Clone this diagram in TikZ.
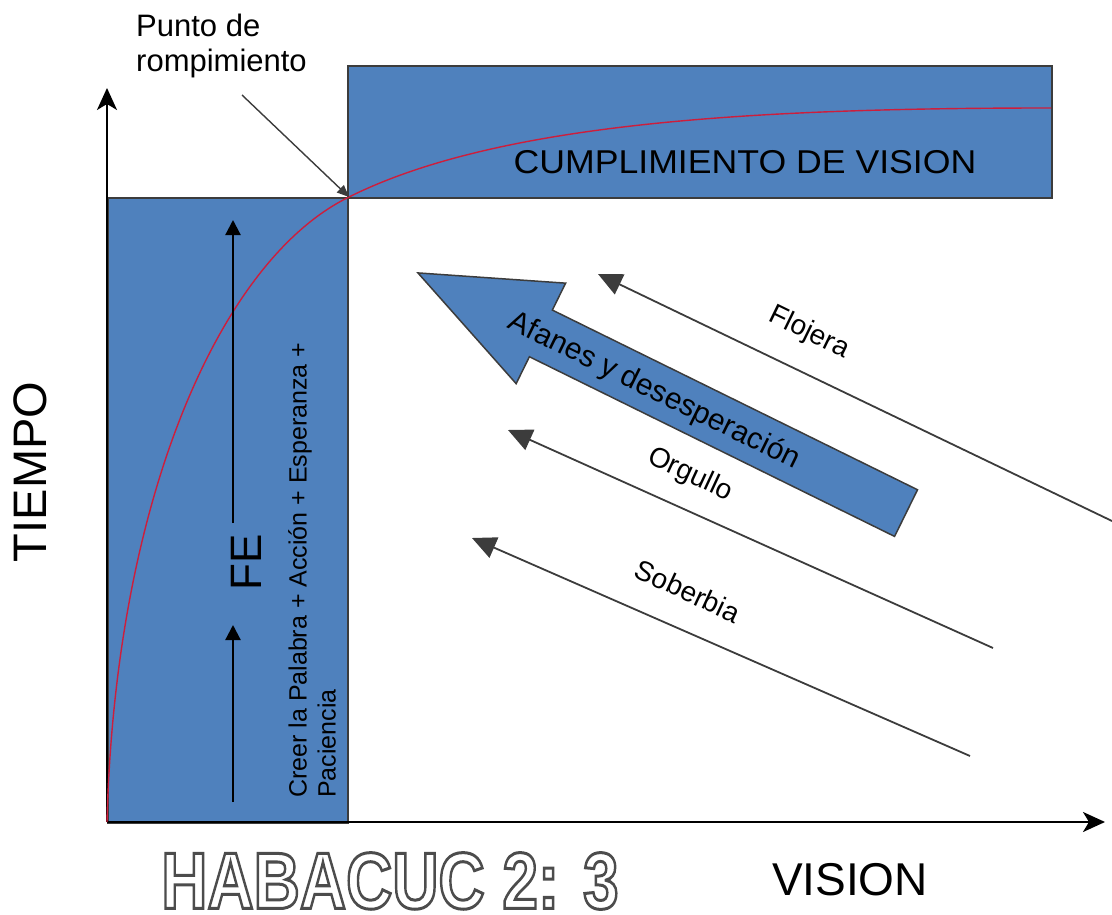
\documentclass[tikz,border=0pt]{standalone}
\usepackage{fontspec}
\setmainfont{Liberation Sans}
\usetikzlibrary{%
		arrows.meta%
	}
\definecolor{visionblue}{RGB}{79,129,189}
\definecolor{edgegray}{RGB}{60,60,60}
\definecolor{curvered}{RGB}{205,30,60}
\newcommand{\hollowtext}[1]{\special{pdf:literal direct 1 Tr 3 w 0.3 G}#1\special{pdf:literal direct 0 Tr 0 G}}

\begin{document}
\begin{tikzpicture}[x=1pt, y=-1pt,
		bluebox/.style={fill=visionblue, draw=edgegray, line width=2pt, inner sep=0pt, anchor=north west},
		axisline/.style={line width=2.2pt, -{Stealth[length=22pt, width=20pt, inset=6pt]}},
		vicearrow/.style={draw=edgegray, line width=1.8pt, -{Triangle[length=24pt, width=22pt]}},
		fearrow/.style={line width=2.2pt, -{Triangle[length=15pt, width=15pt]}},
		lbl/.style={inner sep=0pt, font=\fontsize{28}{30}\selectfont}]
	\useasboundingbox (0,0) rectangle (1112,915);
	% boxes
	\node[bluebox, minimum width=240pt, minimum height=625pt] (febox) at (107,197) {};
	\node[bluebox, minimum width=704pt, minimum height=132pt] (visionbox) at (347,65) {};
	% axes
	\coordinate (origin) at (107,822);
	\coordinate (ytop) at (107,88);
	\coordinate (xend) at (1105,822);
	\draw[axisline] (origin) -- (ytop);
	\draw[axisline] (origin) -- (xend);
	% red curve
	\coordinate (curveend) at (1051,108);
	\draw[curvered, line width=1.4pt] (origin) .. controls (115,500) and (220,260) .. (febox.north east) .. controls (497,123) and (750,108) .. (curveend);
	% punto de rompimiento
	\node[inner sep=0pt, font=\fontsize{31}{35}\selectfont, align=left, anchor=north west] (punto) at (136,14) {Punto de\\rompimiento};
	\coordinate (puntotail) at (242,95);
	\draw[draw=edgegray, line width=1.4pt, -{Triangle[length=12pt, width=10pt]}] (puntotail) -- (febox.north east);
	\node[font=\fontsize{33}{35}\selectfont, xscale=1.08] (cumple) at (745,162) {CUMPLIMIENTO DE VISION};
	% fe
	\node[rotate=90, inner sep=0pt, font=\fontsize{44}{44}\selectfont] (fe) at (246,562) {FE};
	\coordinate (felow) at (233,802);
	\coordinate (femid) at (233,625);
	\coordinate (fehigh) at (233,523);
	\coordinate (fetop) at (233,220);
	\draw[fearrow] (felow) -- (femid);
	\draw[fearrow] (fehigh) -- (fetop);
	\node[rotate=90, anchor=north west, align=left, inner sep=0pt, font=\fontsize{25}{29}\selectfont] (creer) at (288,798) {Creer la Palabra + Acción + Esperanza +\\Paciencia};
	% afanes
	\begin{scope}[shift={(662,393)}, rotate=-26.2]
		\filldraw[fill=visionblue, draw=edgegray, line width=1.5pt, line join=miter] (-272,0) -- (-135,-56) -- (-135,-26) -- (272,-26) -- (272,26) -- (-135,26) -- (-135,56) -- cycle;
		\node[inner sep=0pt, rotate=-26.2, font=\fontsize{30}{30}\selectfont] (afanes) at (-8,2) {Afanes y desesperación};
	\end{scope}
	% thin arrows
	\coordinate (flojtail) at (1112,521);
	\coordinate (flojtip) at (598,274);
	\coordinate (orgtail) at (993,648);
	\coordinate (orgtip) at (508,430);
	\coordinate (sobtail) at (970,756);
	\coordinate (sobtip) at (472,538);
	\draw[vicearrow] (flojtail) -- (flojtip);
	\draw[vicearrow] (orgtail) -- (orgtip);
	\draw[vicearrow] (sobtail) -- (sobtip);
	\node[lbl, rotate=-26] (flojera) at (809,333) {Flojera};
	\node[lbl, rotate=-25] (orgullo) at (690,475) {Orgullo};
	\node[lbl, rotate=-25] (soberbia) at (688,591) {Soberbia};
	% axis labels
	\node[rotate=90, inner sep=0pt, font=\fontsize{47}{47}\selectfont] (tiempo) at (30,472) {TIEMPO};
	\node[inner sep=0pt, font=\fontsize{46}{46}\selectfont] (vision) at (850,880) {VISION};
	\node[inner sep=0pt, font=\bfseries\fontsize{80}{80}\selectfont, xscale=0.8] (habacuc) at (390,881) {\hollowtext{HABACUC 2: 3}};
\end{tikzpicture}
\end{document}
